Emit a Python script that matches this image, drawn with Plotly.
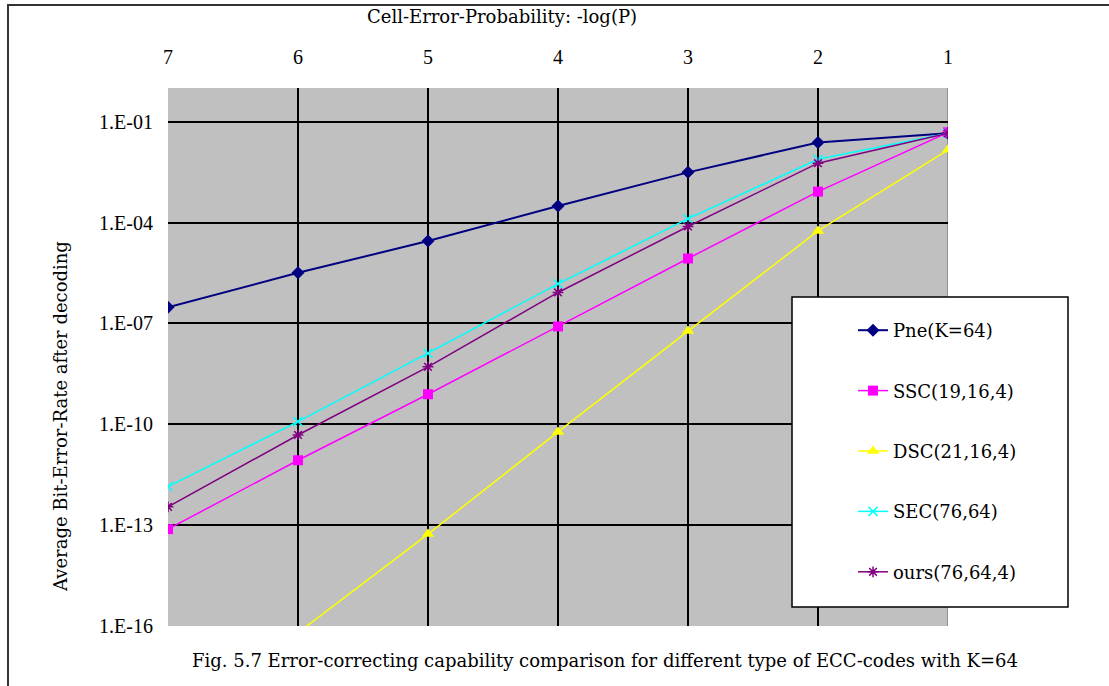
import plotly.graph_objects as go

neg_log_p = [7, 6, 5, 4, 3, 2, 1]
pne = [3.0e-7, 3.2e-6, 2.8e-5, 3.1e-4, 3.1e-3, 2.4e-2, 4.5e-2]
ssc = [7.6e-14, 8.5e-12, 7.8e-10, 8.1e-8, 8.5e-6, 8.3e-4, 4.8e-2]
dsc = [6.3e-20, 6.3e-17, 5.4e-14, 5.9e-11, 5.9e-8, 5.6e-5, 1.45e-2]
sec = [1.4e-12, 1.2e-10, 1.3e-8, 1.5e-6, 1.3e-4, 7.6e-3, 4.5e-2]
ours = [3.5e-13, 4.8e-11, 5.1e-9, 8.3e-7, 7.6e-5, 5.8e-3, 4.5e-2]

y_tick_vals = [1e-16, 1e-13, 1e-10, 1e-7, 1e-4, 1e-1, 1e0]
y_tick_text = ["1.E-16", "1.E-13", "1.E-10", "1.E-07", "1.E-04", "1.E-01", ""]
x_tick_vals = [7, 6, 5, 4, 3, 2, 1]
x_tick_text = ["7", "6", "5", "4", "3", "2", "1"]

x_title = "Cell-Error-Probability: -log(P)"
y_title = "Average Bit-Error-Rate after decoding"
caption = "Fig. 5.7 Error-correcting capability comparison for different type of ECC-codes with K=64"

FONT = "Liberation Serif"
FONT2 = "DejaVu Serif"
FS = 20
FS2 = 18
W, H = 1109, 686
L, R, T, B = 168, 161, 88, 60
PW, PH = W - L - R, H - T - B

def px_x(p):
    return (p - L) / PW

def px_y(p):
    return (H - B - p) / PH

series = [
    ("Pne(K=64)", pne, "#000080", dict(symbol="diamond", size=10, color="#000080"), 2),
    ("SSC(19,16,4)", ssc, "#FF00FF", dict(symbol="square", size=10, color="#FF00FF"), 1.5),
    ("DSC(21,16,4)", dsc, "#FFFF00", dict(symbol="triangle-up", size=11, color="#FFFF00"), 1.5),
    ("SEC(76,64)", sec, "#00FFFF", dict(symbol="x-thin-open", size=9, color="#00FFFF",
                                        line=dict(color="#00FFFF", width=1.5)), 1.5),
    ("ours(76,64,4)", ours, "#800080", dict(symbol="asterisk-open", size=9, color="#800080",
                                            line=dict(color="#800080", width=1.5)), 1.5),
]

fig = go.Figure()
for i, (name, vals, col, mk, lw) in enumerate(series):
    fig.add_trace(go.Scatter(
        x=neg_log_p, y=vals, name=name, mode="lines+markers",
        line=dict(color=col, width=lw), marker=mk, legendgroup=f"g{i}",
    ))

fig.update_layout(
    width=W, height=H,
    margin=dict(l=L, r=R, t=T, b=B),
    paper_bgcolor="white",
    plot_bgcolor="#C0C0C0",
    font=dict(family=FONT, size=FS, color="black"),
    showlegend=True,
    legend=dict(
        x=px_x(853), y=px_y(312), xanchor="left", yanchor="top",
        bgcolor="rgba(0,0,0,0)", borderwidth=0,
        font=dict(family=FONT2, size=FS2), tracegroupgap=34,
    ),
    xaxis=dict(
        side="top", range=[7, 1], tickvals=x_tick_vals, ticktext=x_tick_text,
        showgrid=True, gridcolor="black", gridwidth=1.5, zeroline=False,
        ticks="", ticklabelstandoff=19,
    ),
    yaxis=dict(
        type="log", range=[-16, 0], tickvals=y_tick_vals, ticktext=y_tick_text,
        showgrid=True, gridcolor="black", gridwidth=1.5, zeroline=False,
        ticks="", ticklabelstandoff=14,
    ),
    shapes=[
        dict(type="line", xref="x", yref="paper", x0=1, x1=1, y0=0, y1=1,
             line=dict(color="#808080", width=1.5), layer="between"),
        dict(type="rect", xref="paper", yref="paper",
             x0=px_x(8), x1=px_x(1130), y0=px_y(700), y1=px_y(5),
             line=dict(color="#333333", width=2), layer="below"),
        dict(type="rect", xref="paper", yref="paper",
             x0=px_x(792), x1=px_x(1068), y0=px_y(607), y1=px_y(297),
             fillcolor="white", line=dict(color="black", width=1.5), layer="above"),
    ],
    annotations=[
        dict(text=x_title, xref="paper", yref="paper", x=px_x(502), y=px_y(16),
             xanchor="center", yanchor="middle", showarrow=False,
             font=dict(family=FONT2, size=FS2)),
        dict(text=y_title, xref="paper", yref="paper", x=px_x(60), y=px_y(417),
             xanchor="center", yanchor="middle", showarrow=False, textangle=-90,
             font=dict(family=FONT2, size=FS2)),
        dict(text=caption, xref="paper", yref="paper", x=px_x(605), y=px_y(660),
             xanchor="center", yanchor="middle", showarrow=False,
             font=dict(family=FONT2, size=FS2)),
    ],
)

fig.write_html("out.html")
